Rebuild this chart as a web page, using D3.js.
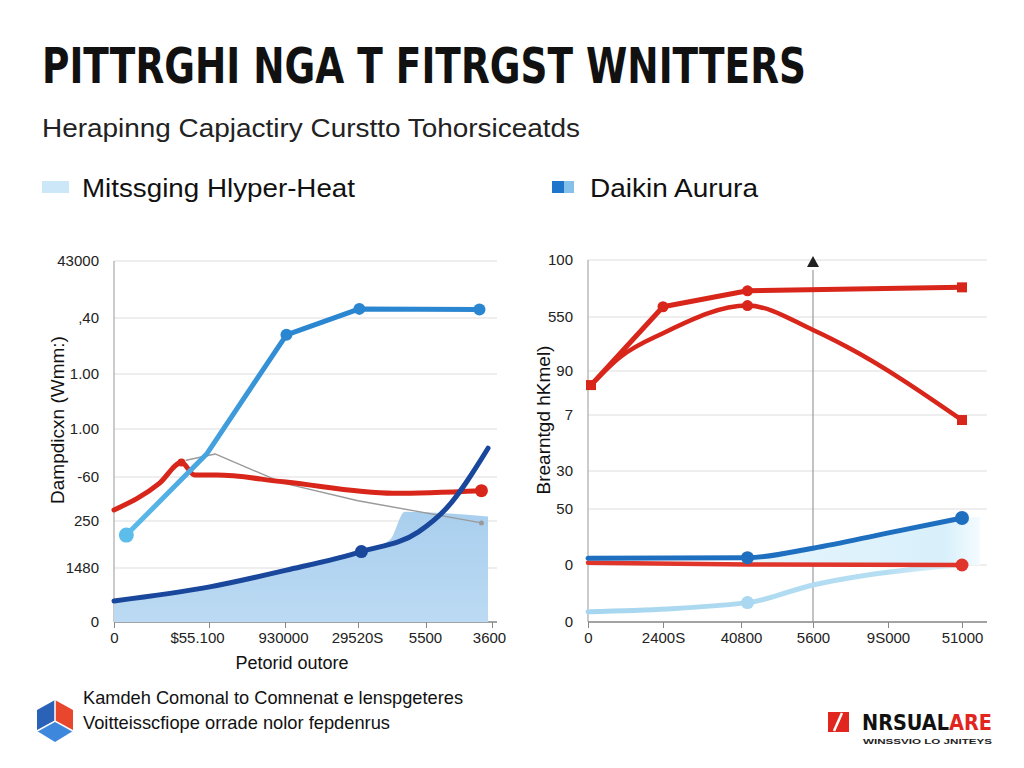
<!DOCTYPE html>
<html><head><meta charset="utf-8">
<script src="https://cdn.jsdelivr.net/npm/d3@7"></script>
<style>body{margin:0;background:#fff}svg{display:block}</style>
</head><body><svg width="1024" height="768"></svg>
<script>
// ---------- text ----------
const titleText = "PITTRGHI NGA T FITRGST WNITTERS";
const subtitleText = "Herapinng Capjactiry Curstto Tohorsiceatds";
const legendLabels = ["Mitssging Hlyper-Heat", "Daikin Aurura"];
const leftYTitle = "Dampdicxn (Wmm:)";
const leftXTitle = "Petorid outore";
const rightYTitle = "Brearntgd hKmel)";
const footerLines = ["Kamdeh Comonal to Comnenat e lenspgeteres", "Voitteisscfiope orrade nolor fepdenrus"];
const brandMain = ["NRSUAL", "ARE"];
const brandSub = "WINSSVIO LO JNITEYS";

// ---------- tick labels ----------
const leftYTicks = ["0", "1480", "250", "-60", "1.00", "1.00", ",40", "43000"];
const leftXTicks = ["0", "$55.100", "930000", "29520S", "5500", "3600"];
const rightYTicks = ["0", "0", "50", "30", "7", "90", "550", "100"];
const rightXTicks = ["0", "2400S", "40800", "5600", "9S000", "51000"];

// ---------- series (x = tick index, y = tick index) ----------
const leftBlue  = [[0.13,1.70],[0.98,3.49],[2.02,5.70],[3.02,6.16],[4.81,6.15]];
const leftNavy  = [[0,0.39],[1.01,0.65],[2.02,0.96],[3.05,1.35],[3.89,1.77],[4.31,2.29],[4.94,3.60]];
const leftArea  = [[0,0.39],[1.01,0.65],[2.02,0.96],[3.05,1.35],[3.47,1.60],[3.69,2.21],[4.94,2.10]];
const leftRed   = [[0,2.25],[0.48,2.86],[0.71,3.30],[0.85,3.04],[1.10,3.04],[1.98,2.89],[3.52,2.63],[4.84,2.69]];
const leftGray  = [[0.76,3.35],[1.08,3.48],[1.98,2.86],[3.0,2.46],[4.84,1.96]];

const rightRedTop = [[0.04,4.68],[1.0,6.18],[2.09,6.46],[5,6.52]];
const rightRedArc = [[0.04,4.68],[0.43,5.26],[1.0,5.70],[2.09,6.20],[3.0,5.76],[3.45,5.45],[5,3.91]];
const rightBlue   = [[0,1.12],[2.09,1.13],[3,1.30],[3.99,1.57],[5,1.84]];
const rightArea   = [[2.09,1.13],[3,1.30],[3.99,1.57],[5,1.84],[5.24,1.86]];
const rightRedLow = [[0,1.04],[2.09,1.01],[5,1.0]];
const rightLight  = [[0,0.18],[2.09,0.34],[3,0.65],[4.44,0.94],[5,1.0]];
const rightMarker = 3; // vertical marker at x tick index

const svg = d3.select("svg");
const defs = svg.append("defs");
const FONT = "'Liberation Sans', Arial, sans-serif";
const COND = "'Liberation Sans Narrow','DejaVu Sans Condensed',"+FONT;

// gradients
const g1 = defs.append("linearGradient").attr("id","gBlue").attr("gradientUnits","userSpaceOnUse")
  .attr("x1",114).attr("x2",300).attr("y1",0).attr("y2",0);
g1.append("stop").attr("offset","0").attr("stop-color","#62c0ec");
g1.append("stop").attr("offset","1").attr("stop-color","#2a86d0");
const g2 = defs.append("linearGradient").attr("id","gArea").attr("x1",0).attr("x2",0).attr("y1",0).attr("y2",1);
g2.append("stop").attr("offset","0").attr("stop-color","#a9cfee");
g2.append("stop").attr("offset","1").attr("stop-color","#bcdaf3");
const g3 = defs.append("linearGradient").attr("id","gArea2").attr("x1",0).attr("x2",1).attr("y1",0).attr("y2",0);
g3.append("stop").attr("offset","0").attr("stop-color","#e6f5fc");
g3.append("stop").attr("offset","0.85").attr("stop-color","#d8f0fb");
g3.append("stop").attr("offset","1").attr("stop-color","#f4fbfe");
const g4 = defs.append("linearGradient").attr("id","gLight").attr("gradientUnits","userSpaceOnUse")
  .attr("x1",588).attr("x2",962).attr("y1",0).attr("y2",0);
g4.append("stop").attr("offset","0").attr("stop-color","#a6d6ef");
g4.append("stop").attr("offset","0.8").attr("stop-color","#b5def2");
g4.append("stop").attr("offset","1").attr("stop-color","#e8f5fb");

// ---------- title block ----------
svg.append("text").attr("x",42).attr("y",83).text(titleText)
  .attr("font-family",COND)
  .attr("font-weight","bold").attr("font-size",50).attr("fill","#111")
  .attr("textLength",764).attr("lengthAdjust","spacingAndGlyphs");
svg.append("text").attr("x",42).attr("y",137).text(subtitleText)
  .attr("font-family",FONT).attr("font-size",26).attr("fill","#222")
  .attr("textLength",538).attr("lengthAdjust","spacingAndGlyphs");

// legend
svg.append("rect").attr("x",42).attr("y",181).attr("width",27).attr("height",12).attr("fill","#cce8f8");
svg.append("text").attr("x",82).attr("y",197).text(legendLabels[0])
  .attr("font-family",FONT).attr("font-size",26).attr("fill","#111")
  .attr("textLength",273).attr("lengthAdjust","spacingAndGlyphs");
svg.append("rect").attr("x",552).attr("y",181).attr("width",12).attr("height",12).attr("fill","#1f74cc");
svg.append("rect").attr("x",564).attr("y",181).attr("width",10).attr("height",12).attr("fill","#84c0ea");
svg.append("text").attr("x",590).attr("y",197).text(legendLabels[1])
  .attr("font-family",FONT).attr("font-size",26).attr("fill","#111")
  .attr("textLength",168).attr("lengthAdjust","spacingAndGlyphs");

// ---------- helpers ----------
function axes(g, x, y, xTicks, yTicks, x0, x1, yPad, xShift) {
  const yTop = y(yTicks.length - 1), yBot = y(0);
  g.append("g").selectAll("line").data(d3.range(yTicks.length)).join("line")
    .attr("x1",x0).attr("x2",x1).attr("y1",d=>y(d)).attr("y2",d=>y(d))
    .attr("stroke","#dedede").attr("stroke-width",1.2);
  const ya = g.append("g").attr("transform",`translate(${x0},0)`)
    .call(d3.axisLeft(y).tickValues(d3.range(yTicks.length)).tickFormat(i=>yTicks[i]).tickSize(0).tickPadding(yPad));
  ya.select(".domain").remove();
  ya.selectAll("text").attr("font-family",FONT).attr("font-size",15).attr("fill","#222");
  g.append("line").attr("x1",x0).attr("x2",x0).attr("y1",yTop).attr("y2",yBot).attr("stroke","#b0b0b0").attr("stroke-width",1.3);
  const xa = g.append("g").attr("transform",`translate(0,${yBot})`)
    .call(d3.axisBottom(x).tickValues(d3.range(xTicks.length)).tickFormat(i=>xTicks[i]).tickSize(6).tickPadding(4));
  xa.select(".domain").remove();
  xa.selectAll("line").attr("stroke","#888");
  xa.selectAll("text").attr("font-family",FONT).attr("font-size",15).attr("fill","#222")
    .attr("dx",(d,i)=>xShift ? xShift[i] : 0);
  g.append("line").attr("x1",x0).attr("x2",x1).attr("y1",yBot).attr("y2",yBot).attr("stroke","#8a8a8a").attr("stroke-width",1.3);
}
function line(g, x, y, data, color, w, curve) {
  return g.append("path").datum(data)
    .attr("d", d3.line().x(d=>x(d[0])).y(d=>y(d[1])).curve(curve || d3.curveLinear))
    .attr("fill","none").attr("stroke",color).attr("stroke-width",w)
    .attr("stroke-linejoin","round").attr("stroke-linecap","round");
}
function dots(g, x, y, pts, color, r) {
  g.append("g").selectAll("circle").data(pts).join("circle")
    .attr("cx",d=>x(d[0])).attr("cy",d=>y(d[1])).attr("r",r).attr("fill",color);
}
function squares(g, x, y, pts, color, s) {
  g.append("g").selectAll("rect").data(pts).join("rect")
    .attr("x",d=>x(d[0])-s/2).attr("y",d=>y(d[1])-s/2).attr("width",s).attr("height",s).attr("fill",color);
}

// ---------- left chart ----------
const lx = d3.scaleLinear().domain(d3.range(6)).range([114,209,285,358,426,492]);
const ly = d3.scaleLinear().domain(d3.range(8)).range([622,568,521,477,429,374,318,261]);
const L = svg.append("g");
axes(L, lx, ly, leftXTicks, leftYTicks, 114, 497, 15, [0,-12,-2,-1,-1,-3]);

L.append("path").datum(leftArea)
  .attr("d", d3.area().x(d=>lx(d[0])).y0(ly(0)).y1(d=>ly(d[1])).curve(d3.curveMonotoneX))
  .attr("fill","url(#gArea)");
line(L, lx, ly, leftGray, "#9a9a9a", 1.4);
dots(L, lx, ly, [leftGray[leftGray.length-1]], "#9a9a9a", 2.5);
line(L, lx, ly, leftRed, "#d8261b", 5, d3.curveMonotoneX);
dots(L, lx, ly, [leftRed[2]], "#d8261b", 4);
dots(L, lx, ly, [leftRed[leftRed.length-1]], "#d8261b", 6.5);
line(L, lx, ly, leftBlue, "url(#gBlue)", 5);
dots(L, lx, ly, leftBlue.slice(2), "#2a86d0", 6);
dots(L, lx, ly, [leftBlue[0]], "#5cbdea", 7.5);
line(L, lx, ly, leftNavy, "#19479b", 5, d3.curveMonotoneX);
dots(L, lx, ly, [leftNavy[3]], "#19479b", 6.5);

L.append("text").attr("transform",`translate(64,420) rotate(-90)`).attr("text-anchor","middle")
  .text(leftYTitle).attr("font-family",FONT).attr("font-size",19).attr("fill","#111");
L.append("text").attr("x",292).attr("y",669).attr("text-anchor","middle")
  .text(leftXTitle).attr("font-family",FONT).attr("font-size",18).attr("fill","#111");

// ---------- right chart ----------
const rx = d3.scaleLinear().domain(d3.range(6)).range([588,663,741,813,888,962]);
const ry = d3.scaleLinear().domain(d3.range(8)).range([622,565,509,471,415,371,317,260]);
const R = svg.append("g");
axes(R, rx, ry, rightXTicks, rightYTicks, 588, 987, 15, null);

R.append("line").attr("x1",rx(rightMarker)).attr("x2",rx(rightMarker)).attr("y1",270).attr("y2",ry(0))
  .attr("stroke","#9a9a9a").attr("stroke-width",1.2);
R.append("path").attr("d",`M${rx(rightMarker)},${256} l6,11 l-12,0 z`).attr("fill","#222");

R.append("path").datum(rightArea)
  .attr("d", d3.area().x(d=>rx(d[0])).y0(ry(1)).y1(d=>ry(d[1])).curve(d3.curveMonotoneX))
  .attr("fill","url(#gArea2)");
line(R, rx, ry, rightLight, "url(#gLight)", 5, d3.curveMonotoneX);
dots(R, rx, ry, [rightLight[1]], "#a9d8f0", 6.5);
line(R, rx, ry, rightRedLow, "#e0352b", 4.5);
dots(R, rx, ry, [rightRedLow[2]], "#e0352b", 6.5);
line(R, rx, ry, rightBlue, "#1e6fc0", 5, d3.curveMonotoneX);
dots(R, rx, ry, [rightBlue[1]], "#1e6fc0", 6.5);
dots(R, rx, ry, [rightBlue[4]], "#1e6fc0", 7);
line(R, rx, ry, rightRedArc, "#d8261b", 4.5, d3.curveMonotoneX);
line(R, rx, ry, rightRedTop, "#d8261b", 5);
dots(R, rx, ry, [rightRedTop[1], rightRedTop[2], rightRedArc[3]], "#d8261b", 5.5);
squares(R, rx, ry, [rightRedTop[0], rightRedTop[3], rightRedArc[6]], "#d8261b", 10);

R.append("text").attr("transform",`translate(550,420) rotate(-90)`).attr("text-anchor","middle")
  .text(rightYTitle).attr("font-family",FONT).attr("font-size",19).attr("fill","#111");

// ---------- footer ----------
const F = svg.append("g");
const c = [55,721];
F.append("path").attr("d",`M${c[0]},700 L37,710 L37,731 L${c[0]},${c[1]} Z`).attr("fill","#2a62b8");
F.append("path").attr("d",`M${c[0]},700 L73,710 L73,731 L${c[0]},${c[1]} Z`).attr("fill","#e8472d");
F.append("path").attr("d",`M37,731 L${c[0]},${c[1]} L73,731 L${c[0]},742 Z`).attr("fill","#3d88dc");
F.append("path").attr("d",`M37,731 L${c[0]},${c[1]} L73,731 M${c[0]},${c[1]} L${c[0]},700`)
  .attr("stroke","#fff").attr("stroke-width",1.5).attr("fill","none");
F.selectAll("text.fl").data(footerLines).join("text").attr("class","fl")
  .attr("x",83).attr("y",(d,i)=>704+i*25).text(d=>d)
  .attr("font-family",FONT).attr("font-size",19).attr("fill","#111")
  .attr("textLength",(d,i)=>i===0?380:307).attr("lengthAdjust","spacingAndGlyphs");

F.append("rect").attr("x",828).attr("y",712).attr("width",21).attr("height",20).attr("fill","#e0261e");
F.append("path").attr("d","M842,713 L834,731").attr("stroke","#fff").attr("stroke-width",2.5);
const bt = F.append("text").attr("x",862).attr("y",730)
  .attr("font-family",COND).attr("font-weight","bold")
  .attr("font-size",22).attr("fill","#111").attr("textLength",130).attr("lengthAdjust","spacingAndGlyphs");
bt.append("tspan").text(brandMain[0]);
bt.append("tspan").attr("fill","#e0261e").text(brandMain[1]);
F.append("text").attr("x",863).attr("y",744).text(brandSub)
  .attr("font-family",FONT).attr("font-weight","bold").attr("font-size",8).attr("fill","#222")
  .attr("textLength",129).attr("lengthAdjust","spacingAndGlyphs");
</script></body></html>
